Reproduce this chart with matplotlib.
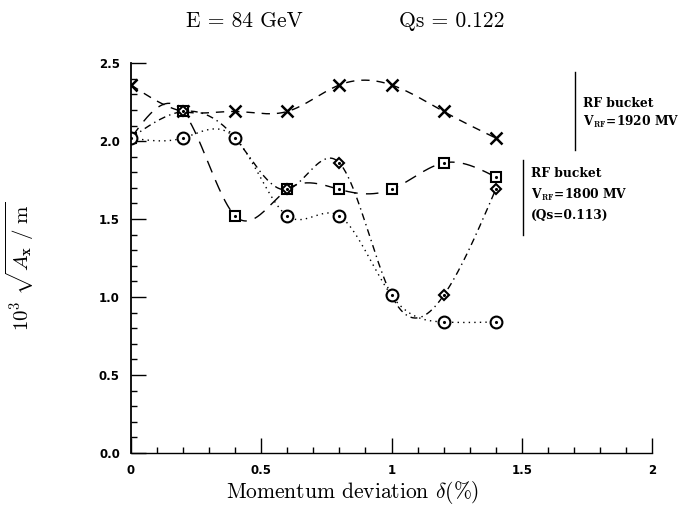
import numpy as np
import matplotlib
matplotlib.use('Agg')
import matplotlib.pyplot as plt
from matplotlib.ticker import MultipleLocator, FormatStrFormatter

plt.rcParams['mathtext.fontset'] = 'cm'

# momentum deviation (%)
delta = [0.0, 0.2, 0.4, 0.6, 0.8, 1.0, 1.2, 1.4]
# 10^3 sqrt(Ax/m) for each tracking case
amp_cross = [2.36, 2.19, 2.19, 2.19, 2.36, 2.36, 2.19, 2.02]    # RF 1920 MV
amp_square = [2.02, 2.19, 1.52, 1.69, 1.69, 1.69, 1.86, 1.77]
amp_diamond = [2.02, 2.19, 2.02, 1.69, 1.86, 1.01, 1.01, 1.69]
amp_circle = [2.02, 2.02, 2.02, 1.52, 1.52, 1.01, 0.84, 0.84]

xticks = [0, 0.5, 1, 1.5, 2]
xticklabels = ['0', '0.5', '1', '1.5', '2']


def smooth(x, y, n=300):
    # natural cubic spline through the points (shape of the connecting curve)
    x = np.asarray(x, float)
    y = np.asarray(y, float)
    k = len(x)
    h = np.diff(x)
    A = np.zeros((k, k))
    r = np.zeros(k)
    A[0, 0] = A[-1, -1] = 1
    for i in range(1, k - 1):
        A[i, i - 1] = h[i - 1]
        A[i, i] = 2 * (h[i - 1] + h[i])
        A[i, i + 1] = h[i]
        r[i] = 6 * ((y[i + 1] - y[i]) / h[i] - (y[i] - y[i - 1]) / h[i - 1])
    M = np.linalg.solve(A, r)
    xs = np.linspace(x[0], x[-1], n)
    idx = np.clip(np.searchsorted(x, xs) - 1, 0, k - 2)
    x0, x1 = x[idx], x[idx + 1]
    hh = x1 - x0
    a = (x1 - xs) / hh
    b = (xs - x0) / hh
    ys = (a * y[idx] + b * y[idx + 1]
          + ((a ** 3 - a) * M[idx] + (b ** 3 - b) * M[idx + 1]) * hh ** 2 / 6)
    return xs, ys


fig = plt.figure(figsize=(6.9, 5.05), dpi=100)
ax = fig.add_axes([0.1899, 0.103, 0.755, 0.772])

series = [
    (amp_cross, 'x', (6, 5), 9, 1.8),
    (amp_square, 's', (9, 6), 7.5, 1.5),
    (amp_diamond, 'D', (5, 3, 1, 3), 5.5, 1.5),
    (amp_circle, 'o', (1, 3), 8.5, 1.5),
]
for vals, mk, dash, ms, mew in series:
    xs, ys = smooth(delta, vals)
    ax.plot(xs, ys, color='k', lw=1.0, dashes=dash)
    ax.plot(delta, vals, linestyle='none', marker=mk, ms=ms, mew=mew,
            mfc='white' if mk != 'x' else 'k', mec='k', color='k')
    if mk != 'x':
        ax.plot(delta, vals, linestyle='none', marker='.', ms=2.5, color='k')

ax.set_xlim(0, 2)
ax.set_ylim(0, 2.5)
ax.set_xticks(xticks)
ax.set_xticklabels(xticklabels)
ax.xaxis.set_minor_locator(MultipleLocator(0.1))
ax.yaxis.set_major_locator(MultipleLocator(0.5))
ax.yaxis.set_minor_locator(MultipleLocator(0.1))
ax.yaxis.set_major_formatter(FormatStrFormatter('%.1f'))
ax.tick_params(which='major', direction='in', length=11, width=1.0, pad=8)
ax.tick_params(which='minor', direction='in', length=4, width=1.0)
for lab in ax.get_xticklabels() + ax.get_yticklabels():
    lab.set_fontweight('bold')
    lab.set_fontsize(8.5)
ax.spines['top'].set_visible(False)
ax.spines['right'].set_visible(False)
ax.spines['left'].set_linewidth(1.3)
ax.spines['bottom'].set_linewidth(1.0)

ax.set_xlabel(r'Momentum deviation $\delta$(%)', family='cmr10', fontsize=15.5)
ax.xaxis.set_label_coords(0.425, -0.068)
ax.set_ylabel(r'$10^3\ \sqrt{A_{\mathbf{x}}\ /\ \mathrm{m}}$', fontsize=15)
ax.yaxis.set_label_coords(-0.182, 0.48)

fig.text(0.354, 0.9465, 'E = 84 GeV', family='cmr10', fontsize=15.5,
         ha='center', va='baseline')
fig.text(0.654, 0.9465, 'Qs = 0.122', family='cmr10', fontsize=15.5,
         ha='center', va='baseline')

# RF bucket notes
note = dict(fontsize=8.8, fontweight='bold', family='DejaVu Serif', va='center')
ax.plot([1.705, 1.705], [1.94, 2.44], color='k', lw=1.0)
ax.text(1.735, 2.24, 'RF bucket', **note)
ax.text(1.735, 2.12, r'V$_{\mathbf{RF}}$=1920 MV', **note)

ax.plot([1.504, 1.504], [1.40, 1.88], color='k', lw=1.0)
ax.text(1.535, 1.79, 'RF bucket', **note)
ax.text(1.535, 1.655, r'V$_{\mathbf{RF}}$=1800 MV', **note)
ax.text(1.535, 1.52, '(Qs=0.113)', **note)

fig.savefig('out.png', dpi=100)
